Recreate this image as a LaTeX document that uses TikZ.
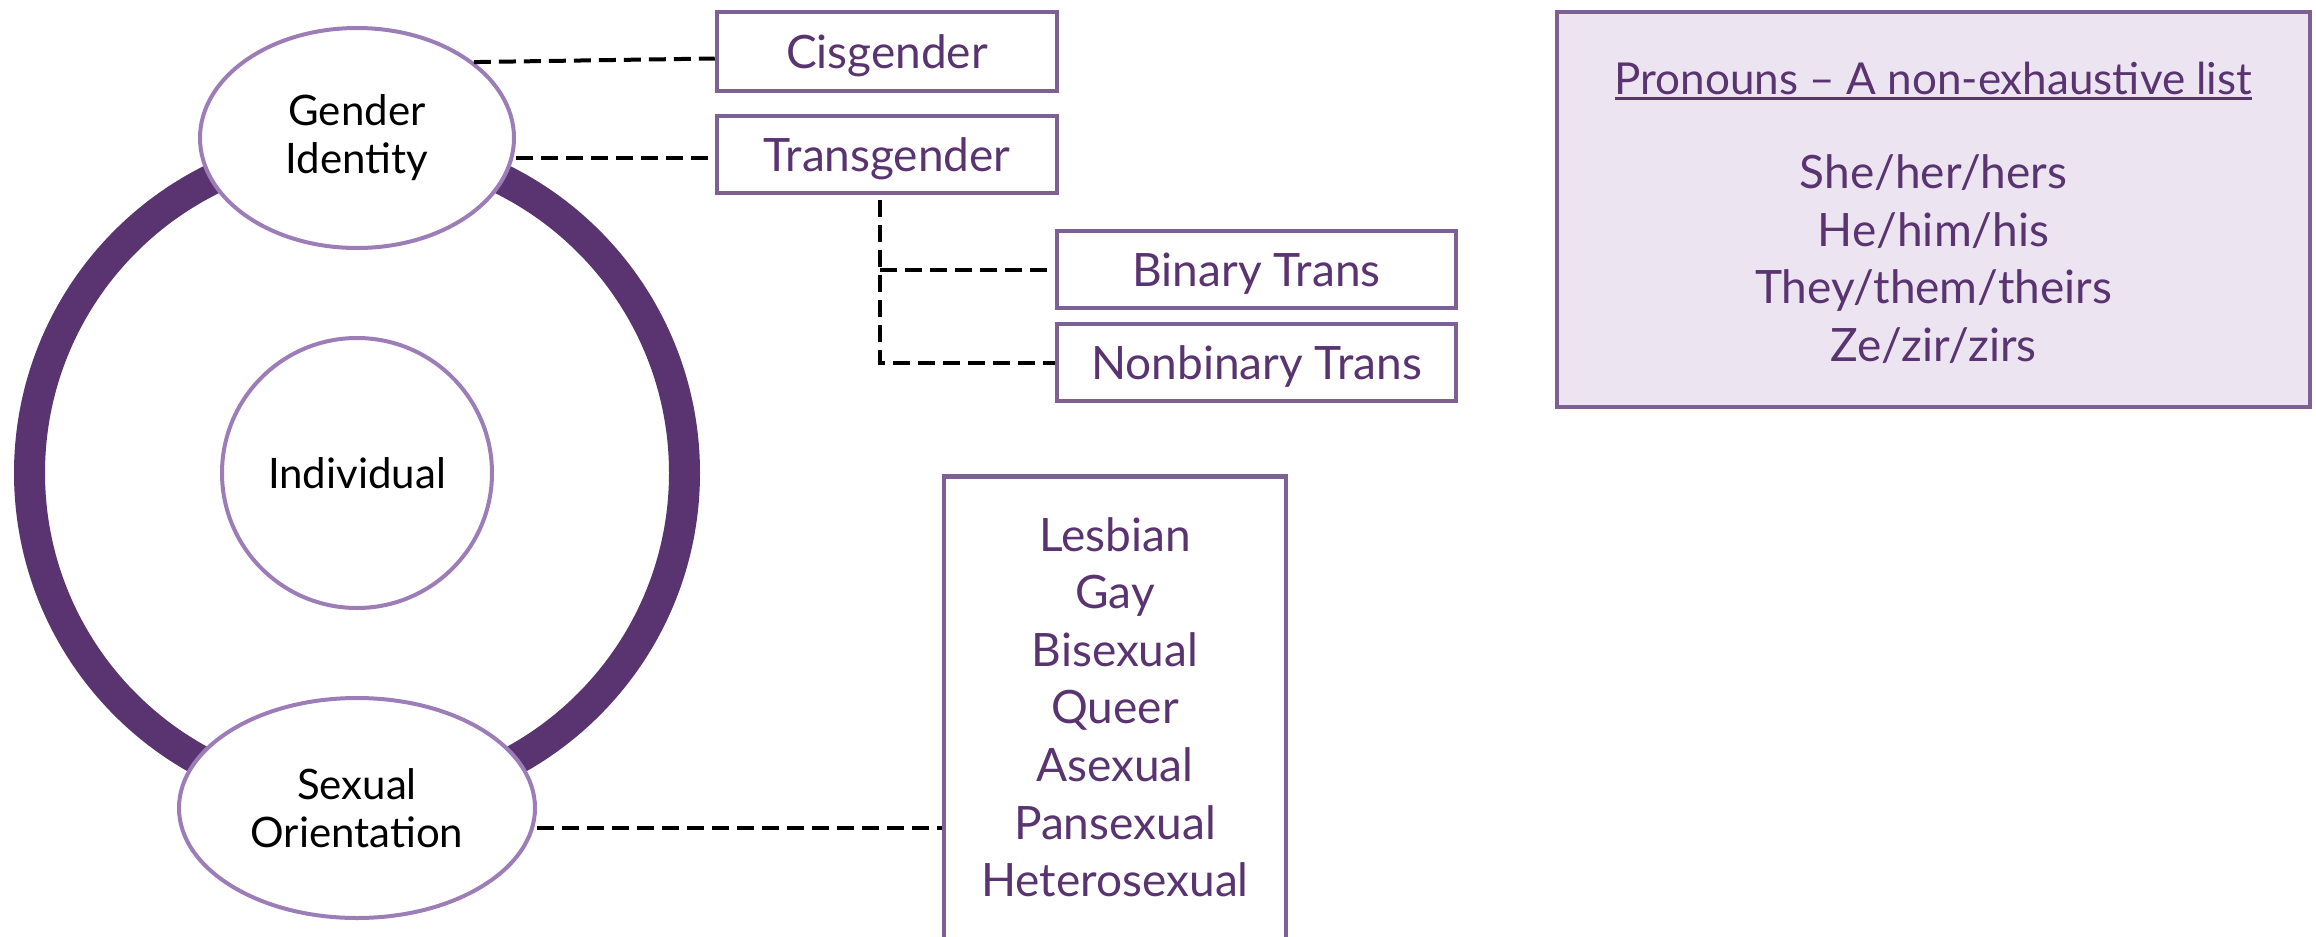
\documentclass[tikz,border=0pt]{standalone}
\usepackage{fontspec}
\setmainfont{Lato}
\usetikzlibrary{shapes.geometric}
\definecolor{ringpurple}{HTML}{5A3470}
\definecolor{bubbleedge}{HTML}{9D7DB8}
\definecolor{boxedge}{HTML}{7D6094}
\definecolor{termpurple}{HTML}{5A3470}
\definecolor{pronfill}{HTML}{EDE4F2}
\newcommand\termsize{\fontsize{46}{57.6}\selectfont}
\newcommand\headsize{\fontsize{44}{57.6}\selectfont}
\newcommand\bubblesize{\fontsize{42}{48}\selectfont}
\newcommand\ulinetext[1]{\leavevmode\sbox0{#1}\rlap{\rule[-5pt]{\wd0}{2.2pt}}\usebox0}

\begin{document}
\begin{tikzpicture}[x=1pt,y=-1pt,
  ringline/.style={draw=ringpurple,line width=31pt},
  bubble/.style={ellipse,draw=bubbleedge,line width=4pt,fill=white,inner sep=0pt,
    align=center,font=\bubblesize,text=black},
  termbox/.style={rectangle,draw=boxedge,line width=4.5pt,fill=white,inner sep=0pt,
    text=termpurple,font=\termsize,text height=33pt,text depth=0pt},
  listtext/.style={inner sep=0pt,align=center,text=termpurple,font=\termsize},
  link/.style={draw=black,line width=4pt,dash pattern=on 17pt off 8pt}
]
\clip (0,0) rectangle (2316,937);
\fill[white] (0,0) rectangle (2316,937);

% the identity ring and its bubbles
\coordinate (hub) at (357,473);
\draw[ringline] (hub) circle[radius=327.5pt];
\node[bubble,circle,minimum size=270pt] (ind) at (hub) {Individual};
\node[bubble,minimum width=314pt,minimum height=220pt] (gi) at (357,138) {Gender\\Identity};
\node[bubble,minimum width=356pt,minimum height=220pt] (so) at (357,808) {Sexual\\Orientation};

% gender identity terms
\node[termbox,minimum width=340pt,minimum height=79pt] (cis) at (887,51.5) {Cisgender};
\node[termbox,minimum width=340pt,minimum height=77pt] (trans) at (887,154.5) {Transgender};
\node[termbox,minimum width=399pt,minimum height=77pt] (bt) at (1256.5,269.5) {Binary Trans};
\node[termbox,minimum width=399pt,minimum height=77pt] (nbt) at (1256.5,362.5) {Nonbinary Trans};

% sexual orientation terms
\node[termbox,minimum width=342pt,minimum height=600pt,anchor=north] (lstbox) at (1115,474) {};
\node[listtext,anchor=north] (lst) at (1115,517)
  {Lesbian\\Gay\\Bisexual\\Queer\\Asexual\\Pansexual\\Heterosexual};

% pronouns panel
\node[rectangle,draw=boxedge,line width=4.5pt,fill=pronfill,inner sep=0pt,
  minimum width=753pt,minimum height=395pt] (pron) at (1933.5,209.5) {};
\node[listtext,anchor=north] (pronlist) at (1933.5,62)
  {{\headsize\ulinetext{Pronouns – A non-exhaustive list}}\\[36.4pt]She/her/hers\\He/him/his\\They/them/theirs\\Ze/zir/zirs};

% dashed connectors
\draw[link] (gi.33) -- ([yshift=-7pt]cis.west);
\draw[link] ([yshift=-3.5pt]trans.west -| gi.east) -- ([yshift=-3.5pt]trans.west);
\coordinate (fork) at ([xshift=-7pt,yshift=-5pt]trans.south);
\draw[link] (fork) |- (nbt.west);
\draw[link] (fork |- bt.west) -- (bt.west);
\draw[link] ([yshift=-20pt]so.east) -- ([yshift=-20pt]so.east -| lstbox.west);
\end{tikzpicture}
\end{document}
